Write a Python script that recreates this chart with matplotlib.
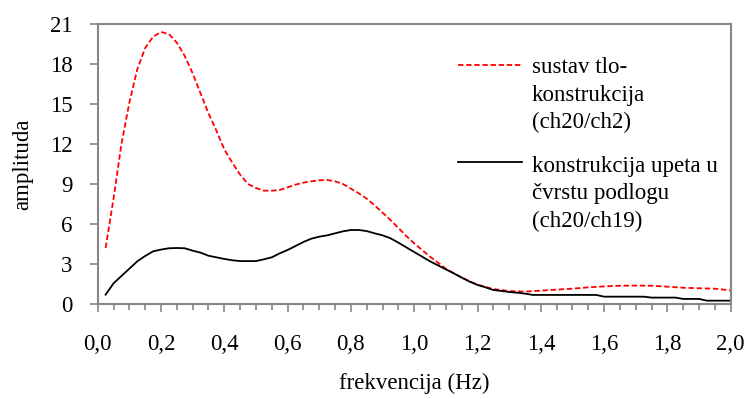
import matplotlib
matplotlib.use("Agg")
import matplotlib.pyplot as plt
from matplotlib.lines import Line2D

plt.rcParams['font.family'] = ['Liberation Serif', 'DejaVu Serif']

# ---- data ----
freq_red = [0.025, 0.05, 0.075, 0.1, 0.125, 0.15, 0.175, 0.2, 0.225, 0.25, 0.275, 0.3,
            0.325, 0.35, 0.375, 0.4, 0.425, 0.45, 0.475, 0.5, 0.525, 0.55, 0.575, 0.6,
            0.625, 0.65, 0.675, 0.7, 0.725, 0.75, 0.775, 0.8, 0.825, 0.85, 0.875, 0.9,
            0.925, 0.95, 0.975, 1.0, 1.025, 1.05, 1.075, 1.1, 1.125, 1.15, 1.175, 1.2,
            1.25, 1.3, 1.35, 1.4, 1.45, 1.5, 1.55, 1.6, 1.65, 1.7, 1.75, 1.8, 1.85,
            1.9, 1.95, 2.0]
amp_red = [4.2, 7.9, 12.0, 15.1, 17.6, 19.2, 20.05, 20.4, 20.25, 19.6, 18.6, 17.3,
           15.8, 14.3, 13.0, 11.6, 10.6, 9.7, 9.0, 8.7, 8.5, 8.5, 8.55, 8.75,
           8.95, 9.1, 9.2, 9.28, 9.3, 9.2, 9.0, 8.65, 8.3, 7.9, 7.4, 6.85,
           6.3, 5.7, 5.1, 4.55, 4.05, 3.55, 3.1, 2.65, 2.3, 2.0, 1.7, 1.45,
           1.12, 0.97, 0.93, 1.0, 1.08, 1.15, 1.25, 1.32, 1.37, 1.38, 1.37, 1.3, 1.22,
           1.18, 1.15, 1.02]

freq_black = [0.025, 0.05, 0.075, 0.1, 0.125, 0.15, 0.175, 0.2, 0.225, 0.25, 0.275, 0.3,
              0.325, 0.35, 0.375, 0.4, 0.425, 0.45, 0.475, 0.5, 0.525, 0.55, 0.575, 0.6,
              0.625, 0.65, 0.675, 0.7, 0.725, 0.75, 0.775, 0.8, 0.825, 0.85, 0.875, 0.9,
              0.925, 0.95, 0.975, 1.0, 1.025, 1.05, 1.075, 1.1, 1.125, 1.15, 1.175, 1.2,
              1.225, 1.25, 1.275, 1.3, 1.325, 1.35, 1.375, 1.575, 1.6, 1.725, 1.75, 1.825,
              1.85, 1.9, 1.925, 2.0]
amp_black = [0.7, 1.55, 2.1, 2.65, 3.2, 3.6, 3.95, 4.08, 4.18, 4.2, 4.18, 4.0,
             3.85, 3.62, 3.5, 3.38, 3.28, 3.22, 3.22, 3.22, 3.35, 3.5, 3.8, 4.05,
             4.35, 4.65, 4.9, 5.05, 5.15, 5.3, 5.45, 5.55, 5.55, 5.47, 5.3, 5.15,
             4.93, 4.6, 4.25, 3.9, 3.55, 3.2, 2.9, 2.6, 2.3, 1.98, 1.68, 1.43,
             1.25, 1.05, 0.98, 0.9, 0.85, 0.78, 0.68, 0.68, 0.55, 0.55, 0.48, 0.48,
             0.38, 0.38, 0.25, 0.25]

labels = ["sustav tlo-\nkonstrukcija\n(ch20/ch2)",
          "konstrukcija upeta u\nčvrstu podlogu\n(ch20/ch19)"]
xticks = [0.0, 0.2, 0.4, 0.6, 0.8, 1.0, 1.2, 1.4, 1.6, 1.8, 2.0]
xtick_labels = ["0,0", "0,2", "0,4", "0,6", "0,8", "1,0", "1,2", "1,4", "1,6", "1,8", "2,0"]
yticks = [0, 3, 6, 9, 12, 15, 18, 21]
xlabel = "frekvencija (Hz)"
ylabel = "amplituda"

FS = 16.5

# ---- figure ----
fig = plt.figure(figsize=(7.49, 3.99), dpi=100)
ax = fig.add_axes([97.7 / 749, (399 - 304) / 399, (730.7 - 97.7) / 749, 280 / 399])

gray = "#868686"
red_kw = dict(color="red", lw=1.3, dashes=(3, 1.5))
blk_kw = dict(color="black", lw=1.3)
ax.plot(freq_red, amp_red, **red_kw)
ax.plot(freq_black, amp_black, **blk_kw)

ax.set_xlim(0, 2.0)
ax.set_ylim(0, 21)
ax.set_xticks(xticks)
ax.set_xticklabels(xtick_labels)
ax.set_xticks([i * 0.05 for i in range(41)], minor=True)
ax.set_yticks(yticks)
ax.set_yticklabels([str(v) for v in yticks])

for s in ax.spines.values():
    s.set_color(gray)
    s.set_linewidth(1.5)

ax.tick_params(axis='x', which='major', direction='out', length=5.5, width=1.2,
               color=gray, labelsize=FS, pad=16)
ax.tick_params(axis='x', which='minor', direction='out', length=4, width=1.2, color=gray)
ax.tick_params(axis='y', which='major', direction='out', length=6, width=1.2,
               color=gray, labelsize=FS, pad=12)

ax.set_xlabel(xlabel, fontsize=FS, labelpad=13)
ax.set_ylabel(ylabel, fontsize=FS, labelpad=12)

# ---- legend (manual) ----
def px2ax(px, py):
    return (px - 97.7) / 633.0, (304 - py) / 280.0

line_y = [65, 161.7]
base_y = [73, 171.7]
for i, (lab, kw) in enumerate(zip(labels, [red_kw, blk_kw])):
    x0, y0 = px2ax(458, line_y[i])
    x1, _ = px2ax(522, line_y[i])
    ax.add_line(Line2D([x0, x1], [y0, y0], transform=ax.transAxes, clip_on=False, **kw))
    for j, part in enumerate(lab.split("\n")):
        tx, ty = px2ax(531.7, base_y[i] + j * 27.5)
        ax.text(tx, ty, part, transform=ax.transAxes, fontsize=FS,
                va='baseline', ha='left')

fig.savefig("out.png", dpi=100)
